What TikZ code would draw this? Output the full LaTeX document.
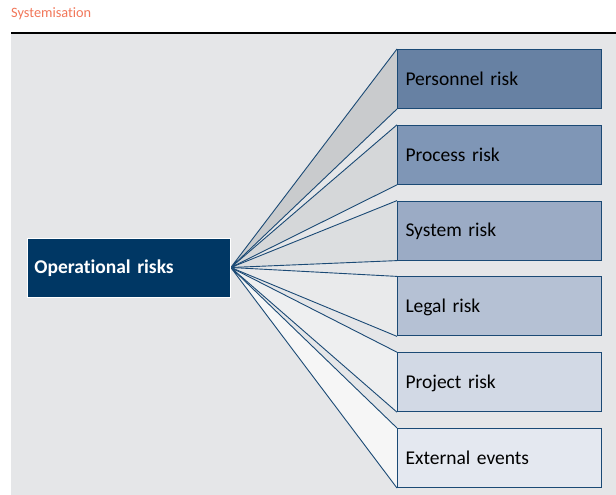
\documentclass[tikz,border=0pt]{standalone}
\usepackage{fontspec}
\setmainfont{Carlito}[Ligatures={NoCommon}, WordSpace=0.85]
\definecolor{navy}{HTML}{1B4A75}
\definecolor{mainfill}{HTML}{003764}
\definecolor{bggray}{HTML}{E5E6E8}
\definecolor{titlecol}{HTML}{F2775A}
\definecolor{fA}{HTML}{6781A3}
\definecolor{fB}{HTML}{7F96B6}
\definecolor{fC}{HTML}{9BABC5}
\definecolor{fD}{HTML}{B5C1D4}
\definecolor{fE}{HTML}{D2D9E5}
\definecolor{fF}{HTML}{E4E8F0}
\definecolor{tA}{HTML}{C9CBCD}
\definecolor{tB}{HTML}{D5D7D9}
\definecolor{tC}{HTML}{DCDEE0}
\definecolor{tD}{HTML}{E9EAEB}
\definecolor{tE}{HTML}{EEEFF0}
\definecolor{tF}{HTML}{F6F6F6}
\pgfdeclarelayer{back}
\pgfdeclarelayer{mid}
\pgfsetlayers{back,mid,main}
\tikzset{
  mainbox/.style={fill=mainfill, draw=white, line width=0.8pt, text=white,
    font=\fontsize{19.5}{22}\selectfont\bfseries, anchor=west, align=left,
    inner xsep=7pt, text width=189pt, minimum height=59pt,
    text height=12.6pt, text depth=0pt},
  riskbox/.style={draw=navy, line width=1pt, text=black,
    font=\fontsize{19.5}{22}\selectfont, anchor=north west, align=left,
    inner xsep=8pt, text width=188pt, minimum height=59pt,
    text height=12.6pt, text depth=0pt},
  fanline/.style={draw=navy, line width=0.9pt, line join=miter},
}
\begin{document}
\begin{tikzpicture}[x=1pt,y=-1pt]
\useasboundingbox (0,0) rectangle (616,495);
\begin{pgfonlayer}{back}
  \fill[white] (0,0) rectangle (616,495);
  \fill[bggray] (11,33) rectangle (616,495);
  \draw[black, line width=1.5pt] (11,33) -- (616,33);
\end{pgfonlayer}
\node[anchor=base west, inner sep=0pt, text=titlecol, font=\fontsize{14.3}{16}\selectfont] (title) at (11,17.5) {Systemisation};
\node[mainbox] (ops) at (27,267.5) {Operational risks};
\node[riskbox, fill=fA] (b1) at (397,49) {Personnel risk};
\node[riskbox, fill=fB] (b2) at (397,124.8) {Process risk};
\node[riskbox, fill=fC] (b3) at (397,200.6) {System risk};
\node[riskbox, fill=fD] (b4) at (397,276.4) {Legal risk};
\node[riskbox, fill=fE] (b5) at (397,352.2) {Project risk};
\node[riskbox, fill=fF] (b6) at (397,428) {External events};
\begin{pgfonlayer}{mid}
\foreach \b/\c in {b1/tA,b2/tB,b3/tC,b4/tD,b5/tE,b6/tF}{
  \fill[\c] (ops.east) -- (\b.north west) -- (\b.south west) -- cycle;
  \draw[fanline] (\b.north west) -- (ops.east) -- (\b.south west);
}
\end{pgfonlayer}
\end{tikzpicture}
\end{document}
